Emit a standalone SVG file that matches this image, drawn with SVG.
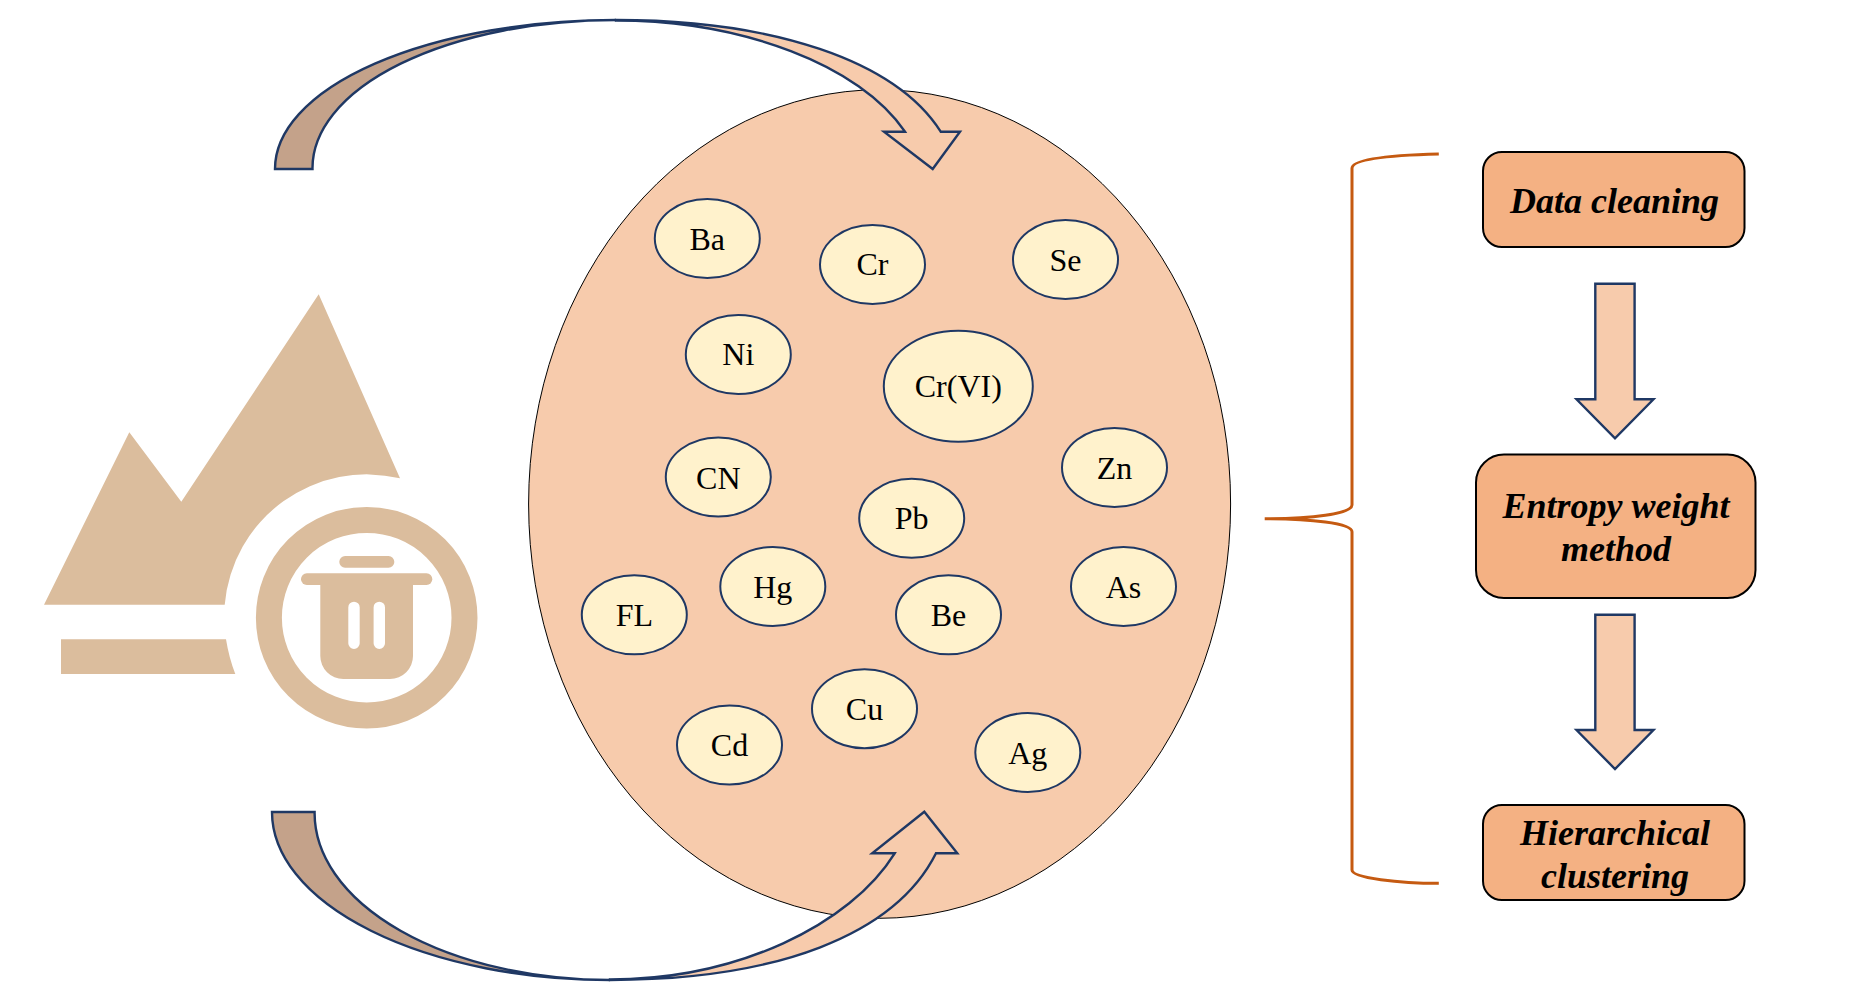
<svg xmlns="http://www.w3.org/2000/svg" width="1855" height="994" viewBox="0 0 1855 994">
<style>
.icon{fill:#DBBD9D}
.arr{stroke:#1F3864;stroke-width:2.4;stroke-linejoin:miter}
.tail{fill:#C4A28A}
.peach{fill:#F7CBAC}
.el{fill:#FFF2CC;stroke:#1F3864;stroke-width:2}
.el-t{font-family:"Liberation Serif","Times New Roman",serif;font-size:32px;fill:#000;text-anchor:middle}
.box{fill:#F4B183;stroke:#000;stroke-width:2}
.box-t{font-family:"Liberation Serif","Times New Roman",serif;font-size:36px;font-weight:bold;font-style:italic;fill:#000;text-anchor:middle}
.brace{fill:none;stroke:#C55A11;stroke-width:3}
</style>
<rect width="1855" height="994" fill="#fff"/>
<g id="icon">
<path class="icon" d="M44,604.7L129.3,432.3L181.3,501.7L318.7,294.3L400,478.3A142.500,142.500 0 0 0 224.700,604.7Z"/>
<path class="icon" d="M61,639.3H226Q229,658 235.300,674H61Z"/>
<circle cx="366.700" cy="617.7" r="97.8" fill="none" stroke="#DBBD9D" stroke-width="26"/>
<rect class="icon" x="339.3" y="556" width="55" height="11.7" rx="5.8"/>
<rect class="icon" x="301" y="573.3" width="131.3" height="11.7" rx="5.8"/>
<path class="icon" fill-rule="evenodd" d="M320.3,585H413V656A23,23 0 0 1 390,679H343.3A23,23 0 0 1 320.3,656ZM354,601.7A5.700,5.700 0 0 0 348.3,607.4V643.3A5.700,5.700 0 0 0 359.7,643.3V607.4A5.700,5.700 0 0 0 354,601.7ZM379.3,601.7A5.700,5.700 0 0 0 373.6,607.4V643.3A5.700,5.700 0 0 0 385,643.3V607.4A5.700,5.700 0 0 0 379.3,601.7Z"/>
</g>
<g id="sample-area">
<ellipse cx="879.6" cy="504" rx="351" ry="414.3" fill="#F7CBAC" stroke="#000" stroke-width="1"/>
</g>
<g id="connectors">
<path class="arr tail" d="M275,169A341,149 0 0 1 616,20A303.500,148 0 0 0 312.5,169Z"/>
<path class="arr peach" d="M616,20C772,20 895,60 940.7,131.7H960L932.7,169L884,131.7H905C860,65 742,20.5 616,20.500Z"/>
<path class="arr tail" d="M272,812A338,168 0 0 0 610,980A295.400,167 0 0 1 314.6,812Z"/>
<path class="arr peach" d="M610,980C777,980 895,935 936,853.3H957.300L924.3,811.7L872.2,853.3H894.7C850,925 737,979.5 610,979.500Z"/>
<path class="arr peach" d="M1595.3,283.7H1634.6V399.3H1653.5L1615,438.3L1576.5,399.3H1595.3Z"/>
<path class="arr peach" d="M1595.3,614.7H1634.6V730H1653.5L1615,769L1576.5,730H1595.3Z"/>
<path class="brace" d="M1438.8,154C1400,155 1352,158 1352,168.3V505C1352,514 1310,518.7 1264.7,518.7C1310,518.7 1352,523 1352,531.7V870C1352,878 1400,883.3 1438.8,883.3"/>
</g>
<g id="Ba"><ellipse class="el" cx="707.3" cy="238.500" rx="52.5" ry="39.500"/><text class="el-t" x="707.3" y="250">Ba</text></g>
<g id="Cr"><ellipse class="el" cx="872.500" cy="264.500" rx="52.5" ry="39.500"/><text class="el-t" x="872.500" y="275.300">Cr</text></g>
<g id="Se"><ellipse class="el" cx="1065.500" cy="259.500" rx="52.5" ry="39.500"/><text class="el-t" x="1065.500" y="270.700">Se</text></g>
<g id="Ni"><ellipse class="el" cx="738.300" cy="354.500" rx="52.5" ry="39.500"/><text class="el-t" x="738.300" y="365">Ni</text></g>
<g id="CrVI"><ellipse class="el" cx="958.300" cy="386.300" rx="74.500" ry="55.500"/><text class="el-t" x="958.300" y="397.300">Cr(VI)</text></g>
<g id="CN"><ellipse class="el" cx="718.300" cy="477" rx="52.5" ry="39.500"/><text class="el-t" x="718.300" y="488.700">CN</text></g>
<g id="Zn"><ellipse class="el" cx="1114.500" cy="467.500" rx="52.5" ry="39.500"/><text class="el-t" x="1114.500" y="478.700">Zn</text></g>
<g id="Pb"><ellipse class="el" cx="911.700" cy="518.300" rx="52.5" ry="39.500"/><text class="el-t" x="911.700" y="529">Pb</text></g>
<g id="Hg"><ellipse class="el" cx="772.800" cy="586.500" rx="52.5" ry="39.500"/><text class="el-t" x="772.800" y="597.700">Hg</text></g>
<g id="FL"><ellipse class="el" cx="634.300" cy="614.800" rx="52.5" ry="39.500"/><text class="el-t" x="634.300" y="626">FL</text></g>
<g id="Be"><ellipse class="el" cx="948.500" cy="614.800" rx="52.5" ry="39.500"/><text class="el-t" x="948.500" y="626">Be</text></g>
<g id="As"><ellipse class="el" cx="1123.500" cy="586.500" rx="52.500" ry="39.500"/><text class="el-t" x="1123.500" y="597.700">As</text></g>
<g id="Cu"><ellipse class="el" cx="864.500" cy="708.700" rx="52.5" ry="39.500"/><text class="el-t" x="864.500" y="719.700">Cu</text></g>
<g id="Cd"><ellipse class="el" cx="729.500" cy="745" rx="52.5" ry="39.500"/><text class="el-t" x="729.500" y="756">Cd</text></g>
<g id="Ag"><ellipse class="el" cx="1027.800" cy="752.500" rx="52.5" ry="39.500"/><text class="el-t" x="1027.800" y="763.500">Ag</text></g>
<g id="data-cleaning"><rect class="box" x="1483" y="152" width="261.500" height="95" rx="19"/><text class="box-t" x="1614.500" y="213">Data cleaning</text></g>
<g id="entropy"><rect class="box" x="1476" y="454.500" width="279.500" height="143.500" rx="28"/><text class="box-t"><tspan x="1616" y="518">Entropy weight</tspan><tspan x="1616" y="561">method</tspan></text></g>
<g id="hierarchical"><rect class="box" x="1483" y="805" width="261.500" height="95" rx="19"/><text class="box-t"><tspan x="1615" y="845">Hierarchical</tspan><tspan x="1615" y="888">clustering</tspan></text></g>
</svg>
